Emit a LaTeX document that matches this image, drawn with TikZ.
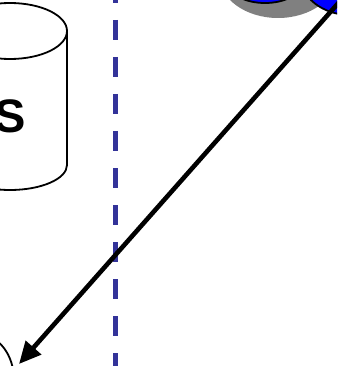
\documentclass[tikz,border=0pt]{standalone}
\usepackage{fontspec}
\setmainfont{Liberation Sans}
\usetikzlibrary{arrows.meta,shapes.geometric}
\definecolor{dashblue}{RGB}{51,51,153}
\definecolor{shadowgray}{RGB}{128,128,128}
\definecolor{discblue}{RGB}{0,0,255}
\tikzset{
  outline/.style={draw=black, line width=1.8pt},
  divider/.style={draw=dashblue, line width=5pt, dash pattern=on 20pt off 17pt},
  flow/.style={draw=black, line width=4.6pt, -{Triangle[length=22pt,width=20pt]}},
  bigtext/.style={font=\bfseries\fontsize{47}{52}\selectfont, inner sep=0pt}
}
\begin{document}
\begin{tikzpicture}[x=1pt,y=-1pt]
\useasboundingbox (0,0) rectangle (337,366);
\clip (0,0) rectangle (337,366);
% cylinder (store)
\draw[outline, fill=white] (67,31) -- (67,165) arc[start angle=0, end angle=-180, x radius=57pt, y radius=25pt] -- (-47,31);
\draw[outline] (10,31) ellipse[x radius=57pt, y radius=28pt];
\node[bigtext, anchor=base east] (store) at (26,132) {S};
% divider
\draw[divider] (115,-17) -- (115,380);
% top right discs
\fill[shadowgray] (278,-25) ellipse[x radius=59pt, y radius=43pt];
\node[outline, fill=discblue, ellipse, minimum width=70pt, minimum height=36pt, inner sep=0pt] (disca) at (265,-15) {};
\node[outline, fill=discblue, ellipse, minimum width=100pt, minimum height=80pt, inner sep=0pt] (discb) at (350,-25) {};
% bottom-left target
\node[outline, ellipse, minimum width=68pt, minimum height=90pt, inner sep=0pt] (target) at (-20,380) {};
\coordinate (tip) at (19,364);
\coordinate (start) at (341,0);
\draw[flow] (start) -- (tip);
\end{tikzpicture}
\end{document}
